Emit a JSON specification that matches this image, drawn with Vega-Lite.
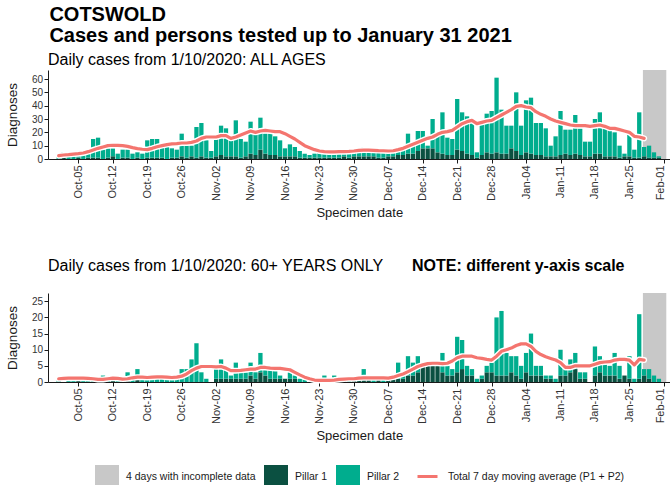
{
  "$schema": "https://vega.github.io/schema/vega-lite/v6.json",
  "background": "white",
  "padding": {"left": 5, "top": 5, "right": 0, "bottom": 2},
  "config": {
    "font": "Liberation Sans",
    "view": {"stroke": null},
    "axis": {"grid": false, "domainColor": "#1a1a1a", "tickColor": "#1a1a1a", "labelColor": "#333333", "titleColor": "#1a1a1a", "titleFontWeight": "normal", "labelFontSize": 10, "tickSize": 4, "labelOverlap": false},
    "legend": {"labelFontSize": 10.5, "labelColor": "#1a1a1a", "orient": "bottom", "labelLimit": 400, "layout": {"bottom": {"anchor": "middle", "direction": "horizontal", "margin": 16}}},
    "title": {"color": "black"}
  },
  "title": {"text": ["COTSWOLD", "Cases and persons tested up to January 31 2021"], "anchor": "start", "fontSize": 20, "fontWeight": "bold", "lineHeight": 21, "offset": 6, "dx": 44},
  "spacing": 38,
  "resolve": {"scale": {"y": "independent", "fill": "shared", "stroke": "shared"}},
  "datasets": {
    "inc": [{"d": "2021-01-27T18:00:00Z", "d2": "2021-02-01T12:00:00Z", "series": "incomplete"}],
    "all": [
      {"d":"2020-10-01","p1":0,"p2":3,"ma":2.5},{"d":"2020-10-02","p1":1,"p2":4,"ma":3.0},{"d":"2020-10-03","p1":0,"p2":3,"ma":3.3},{"d":"2020-10-04","p1":0,"p2":3,"ma":3.7},
      {"d":"2020-10-05","p1":1,"p2":5,"ma":4.0},{"d":"2020-10-06","p1":0,"p2":4,"ma":4.5},{"d":"2020-10-07","p1":1,"p2":4,"ma":5.5},{"d":"2020-10-08","p1":1,"p2":14,"ma":6.8},
      {"d":"2020-10-09","p1":1,"p2":15,"ma":8.0},{"d":"2020-10-10","p1":0,"p2":7,"ma":9.0},{"d":"2020-10-11","p1":1,"p2":7,"ma":10.0},{"d":"2020-10-12","p1":2,"p2":6,"ma":10.3},
      {"d":"2020-10-13","p1":0,"p2":4,"ma":10.2},{"d":"2020-10-14","p1":1,"p2":6,"ma":10.0},{"d":"2020-10-15","p1":1,"p2":6,"ma":9.5},{"d":"2020-10-16","p1":0,"p2":4,"ma":8.5},
      {"d":"2020-10-17","p1":1,"p2":4,"ma":7.8},{"d":"2020-10-18","p1":0,"p2":4,"ma":7.3},{"d":"2020-10-19","p1":1,"p2":13,"ma":7.0},{"d":"2020-10-20","p1":1,"p2":14,"ma":8.0},
      {"d":"2020-10-21","p1":1,"p2":14,"ma":9.2},{"d":"2020-10-22","p1":1,"p2":8,"ma":10.0},{"d":"2020-10-23","p1":0,"p2":9,"ma":10.8},{"d":"2020-10-24","p1":1,"p2":7,"ma":11.3},
      {"d":"2020-10-25","p1":1,"p2":6,"ma":11.5},{"d":"2020-10-26","p1":2,"p2":17,"ma":12.0},{"d":"2020-10-27","p1":1,"p2":9,"ma":12.0},{"d":"2020-10-28","p1":2,"p2":8,"ma":12.5},
      {"d":"2020-10-29","p1":1,"p2":23,"ma":13.5},{"d":"2020-10-30","p1":2,"p2":25,"ma":15.5},{"d":"2020-10-31","p1":1,"p2":13,"ma":16.5},{"d":"2020-11-01","p1":1,"p2":5,"ma":16.5},
      {"d":"2020-11-02","p1":2,"p2":13,"ma":16.5},{"d":"2020-11-03","p1":3,"p2":22,"ma":17.5},{"d":"2020-11-04","p1":2,"p2":21,"ma":17.5},{"d":"2020-11-05","p1":2,"p2":13,"ma":15.5},
      {"d":"2020-11-06","p1":2,"p2":27,"ma":16.5},{"d":"2020-11-07","p1":1,"p2":14,"ma":18.0},{"d":"2020-11-08","p1":2,"p2":11,"ma":19.5},{"d":"2020-11-09","p1":4,"p2":24,"ma":21.0},
      {"d":"2020-11-10","p1":3,"p2":16,"ma":20.0},{"d":"2020-11-11","p1":7,"p2":24,"ma":21.0},{"d":"2020-11-12","p1":4,"p2":15,"ma":21.5},{"d":"2020-11-13","p1":3,"p2":16,"ma":21.0},
      {"d":"2020-11-14","p1":3,"p2":14,"ma":20.5},{"d":"2020-11-15","p1":2,"p2":12,"ma":20.5},{"d":"2020-11-16","p1":2,"p2":6,"ma":19.0},{"d":"2020-11-17","p1":2,"p2":9,"ma":17.0},
      {"d":"2020-11-18","p1":2,"p2":7,"ma":15.0},{"d":"2020-11-19","p1":1,"p2":5,"ma":12.5},{"d":"2020-11-20","p1":1,"p2":3,"ma":10.0},{"d":"2020-11-21","p1":1,"p2":2,"ma":8.5},
      {"d":"2020-11-22","p1":1,"p2":3,"ma":7.0},{"d":"2020-11-23","p1":1,"p2":4,"ma":6.0},{"d":"2020-11-24","p1":1,"p2":5,"ma":5.5},{"d":"2020-11-25","p1":1,"p2":3,"ma":5.3},
      {"d":"2020-11-26","p1":1,"p2":5,"ma":5.3},{"d":"2020-11-27","p1":1,"p2":4,"ma":5.5},{"d":"2020-11-28","p1":2,"p2":4,"ma":5.5},{"d":"2020-11-29","p1":1,"p2":3,"ma":5.7},
      {"d":"2020-11-30","p1":2,"p2":4,"ma":6.0},{"d":"2020-12-01","p1":2,"p2":5,"ma":6.5},{"d":"2020-12-02","p1":2,"p2":7,"ma":6.7},{"d":"2020-12-03","p1":2,"p2":4,"ma":6.7},
      {"d":"2020-12-04","p1":2,"p2":5,"ma":6.5},{"d":"2020-12-05","p1":1,"p2":4,"ma":6.3},{"d":"2020-12-06","p1":1,"p2":4,"ma":6.2},{"d":"2020-12-07","p1":2,"p2":4,"ma":6.0},
      {"d":"2020-12-08","p1":2,"p2":4,"ma":6.2},{"d":"2020-12-09","p1":3,"p2":5,"ma":7.0},{"d":"2020-12-10","p1":3,"p2":6,"ma":8.0},{"d":"2020-12-11","p1":4,"p2":15,"ma":9.5},
      {"d":"2020-12-12","p1":4,"p2":8,"ma":11.0},{"d":"2020-12-13","p1":6,"p2":15,"ma":12.5},{"d":"2020-12-14","p1":8,"p2":13,"ma":14.0},{"d":"2020-12-15","p1":8,"p2":2,"ma":15.5},
      {"d":"2020-12-16","p1":8,"p2":22,"ma":16.5},{"d":"2020-12-17","p1":5,"p2":13,"ma":18.5},{"d":"2020-12-18","p1":4,"p2":31,"ma":20.0},{"d":"2020-12-19","p1":3,"p2":13,"ma":20.5},
      {"d":"2020-12-20","p1":3,"p2":12,"ma":21.5},{"d":"2020-12-21","p1":7,"p2":38,"ma":24.0},{"d":"2020-12-22","p1":6,"p2":29,"ma":26.5},{"d":"2020-12-23","p1":4,"p2":28,"ma":28.0},
      {"d":"2020-12-24","p1":3,"p2":26,"ma":29.0},{"d":"2020-12-25","p1":1,"p2":4,"ma":26.5},{"d":"2020-12-26","p1":3,"p2":24,"ma":27.5},{"d":"2020-12-27","p1":5,"p2":29,"ma":28.5},
      {"d":"2020-12-28","p1":4,"p2":32,"ma":29.0},{"d":"2020-12-29","p1":5,"p2":56,"ma":31.0},{"d":"2020-12-30","p1":4,"p2":33,"ma":33.0},{"d":"2020-12-31","p1":4,"p2":21,"ma":35.0},
      {"d":"2021-01-01","p1":8,"p2":17,"ma":37.0},{"d":"2021-01-02","p1":6,"p2":44,"ma":39.5},{"d":"2021-01-03","p1":3,"p2":22,"ma":40.0},{"d":"2021-01-04","p1":5,"p2":39,"ma":39.0},
      {"d":"2021-01-05","p1":4,"p2":42,"ma":38.5},{"d":"2021-01-06","p1":3,"p2":24,"ma":35.5},{"d":"2021-01-07","p1":3,"p2":24,"ma":33.5},{"d":"2021-01-08","p1":2,"p2":21,"ma":32.0},
      {"d":"2021-01-09","p1":2,"p2":8,"ma":30.0},{"d":"2021-01-10","p1":2,"p2":15,"ma":28.5},{"d":"2021-01-11","p1":3,"p2":33,"ma":27.5},{"d":"2021-01-12","p1":4,"p2":18,"ma":26.5},
      {"d":"2021-01-13","p1":3,"p2":19,"ma":25.5},{"d":"2021-01-14","p1":4,"p2":29,"ma":25.0},{"d":"2021-01-15","p1":3,"p2":20,"ma":25.0},{"d":"2021-01-16","p1":2,"p2":11,"ma":25.0},
      {"d":"2021-01-17","p1":2,"p2":11,"ma":24.5},{"d":"2021-01-18","p1":4,"p2":26,"ma":25.0},{"d":"2021-01-19","p1":4,"p2":31,"ma":25.5},{"d":"2021-01-20","p1":2,"p2":21,"ma":24.5},
      {"d":"2021-01-21","p1":2,"p2":21,"ma":23.0},{"d":"2021-01-22","p1":2,"p2":18,"ma":23.0},{"d":"2021-01-23","p1":1,"p2":9,"ma":22.0},{"d":"2021-01-24","p1":2,"p2":2,"ma":21.0},
      {"d":"2021-01-25","p1":2,"p2":16,"ma":20.0},{"d":"2021-01-26","p1":1,"p2":6,"ma":17.0},{"d":"2021-01-27","p1":1,"p2":34,"ma":16.5},{"d":"2021-01-28","p1":2,"p2":7,"ma":15.5},
      {"d":"2021-01-29","p1":1,"p2":9},{"d":"2021-01-30","p1":1,"p2":4},{"d":"2021-01-31","p1":1,"p2":1}
    ],
    "old": [
      {"d":"2020-10-01","p1":0,"p2":1,"ma":1.0},{"d":"2020-10-02","p1":0,"p2":0,"ma":1.1},{"d":"2020-10-03","p1":0,"p2":1,"ma":1.2},{"d":"2020-10-04","p1":0,"p2":1,"ma":1.2},
      {"d":"2020-10-05","p1":1,"p2":0,"ma":1.2},{"d":"2020-10-06","p1":0,"p2":1,"ma":1.2},{"d":"2020-10-07","p1":0,"p2":1,"ma":1.1},{"d":"2020-10-08","p1":0,"p2":1,"ma":1.0},
      {"d":"2020-10-09","p1":0,"p2":0,"ma":0.8},{"d":"2020-10-10","p1":0,"p2":2,"ma":0.8},{"d":"2020-10-11","p1":0,"p2":1,"ma":1.0},{"d":"2020-10-12","p1":1,"p2":0,"ma":1.2},
      {"d":"2020-10-13","p1":0,"p2":1,"ma":1.1},{"d":"2020-10-14","p1":0,"p2":1,"ma":0.9},{"d":"2020-10-15","p1":1,"p2":2,"ma":1.0},{"d":"2020-10-16","p1":0,"p2":1,"ma":1.3},
      {"d":"2020-10-17","p1":1,"p2":3,"ma":1.5},{"d":"2020-10-18","p1":0,"p2":1,"ma":1.5},{"d":"2020-10-19","p1":0,"p2":1,"ma":1.4},{"d":"2020-10-20","p1":0,"p2":1,"ma":1.5},
      {"d":"2020-10-21","p1":0,"p2":2,"ma":1.6},{"d":"2020-10-22","p1":0,"p2":1,"ma":1.6},{"d":"2020-10-23","p1":0,"p2":1,"ma":1.5},{"d":"2020-10-24","p1":0,"p2":1,"ma":1.4},
      {"d":"2020-10-25","p1":0,"p2":1,"ma":1.5},{"d":"2020-10-26","p1":0,"p2":4,"ma":1.8},{"d":"2020-10-27","p1":0,"p2":4,"ma":2.5},{"d":"2020-10-28","p1":0,"p2":7,"ma":3.5},
      {"d":"2020-10-29","p1":0,"p2":12,"ma":4.3},{"d":"2020-10-30","p1":0,"p2":3,"ma":4.8},{"d":"2020-10-31","p1":0,"p2":1,"ma":4.8},{"d":"2020-11-01","p1":0,"p2":0,"ma":4.8},
      {"d":"2020-11-02","p1":1,"p2":3,"ma":4.7},{"d":"2020-11-03","p1":1,"p2":6,"ma":4.8},{"d":"2020-11-04","p1":1,"p2":3,"ma":4.3},{"d":"2020-11-05","p1":1,"p2":1,"ma":3.5},
      {"d":"2020-11-06","p1":1,"p2":5,"ma":3.5},{"d":"2020-11-07","p1":1,"p2":2,"ma":3.6},{"d":"2020-11-08","p1":1,"p2":2,"ma":3.8},{"d":"2020-11-09","p1":2,"p2":4,"ma":4.0},
      {"d":"2020-11-10","p1":1,"p2":2,"ma":4.0},{"d":"2020-11-11","p1":3,"p2":6,"ma":4.5},{"d":"2020-11-12","p1":2,"p2":2,"ma":4.5},{"d":"2020-11-13","p1":1,"p2":3,"ma":4.3},
      {"d":"2020-11-14","p1":1,"p2":3,"ma":4.2},{"d":"2020-11-15","p1":1,"p2":1,"ma":4.2},{"d":"2020-11-16","p1":1,"p2":0,"ma":4.0},{"d":"2020-11-17","p1":1,"p2":2,"ma":3.8},
      {"d":"2020-11-18","p1":1,"p2":1,"ma":3.0},{"d":"2020-11-19","p1":0,"p2":1,"ma":2.2},{"d":"2020-11-20","p1":0,"p2":1,"ma":1.5},{"d":"2020-11-21","p1":0,"p2":0,"ma":1.0},
      {"d":"2020-11-22","p1":0,"p2":0,"ma":0.6},{"d":"2020-11-23","p1":1,"p2":0,"ma":0.5},{"d":"2020-11-24","p1":0,"p2":2,"ma":0.5},{"d":"2020-11-25","p1":0,"p2":0,"ma":0.5},
      {"d":"2020-11-26","p1":0,"p2":2,"ma":0.6},{"d":"2020-11-27","p1":0,"p2":0,"ma":0.8},{"d":"2020-11-28","p1":1,"p2":0,"ma":0.9},{"d":"2020-11-29","p1":0,"p2":1,"ma":1.0},
      {"d":"2020-11-30","p1":1,"p2":0,"ma":1.0},{"d":"2020-12-01","p1":1,"p2":0,"ma":1.2},{"d":"2020-12-02","p1":1,"p2":3,"ma":1.3},{"d":"2020-12-03","p1":1,"p2":0,"ma":1.3},
      {"d":"2020-12-04","p1":0,"p2":1,"ma":1.3},{"d":"2020-12-05","p1":1,"p2":0,"ma":1.3},{"d":"2020-12-06","p1":0,"p2":1,"ma":1.3},{"d":"2020-12-07","p1":1,"p2":0,"ma":1.2},
      {"d":"2020-12-08","p1":1,"p2":1,"ma":1.5},{"d":"2020-12-09","p1":1,"p2":5,"ma":2.0},{"d":"2020-12-10","p1":1,"p2":2,"ma":2.5},{"d":"2020-12-11","p1":2,"p2":6,"ma":3.2},
      {"d":"2020-12-12","p1":2,"p2":4,"ma":4.0},{"d":"2020-12-13","p1":3,"p2":5,"ma":4.8},{"d":"2020-12-14","p1":5,"p2":0,"ma":5.3},{"d":"2020-12-15","p1":5,"p2":1,"ma":5.7},
      {"d":"2020-12-16","p1":5,"p2":1,"ma":5.8},{"d":"2020-12-17","p1":5,"p2":0,"ma":5.8},{"d":"2020-12-18","p1":3,"p2":6,"ma":5.7},{"d":"2020-12-19","p1":2,"p2":3,"ma":5.8},
      {"d":"2020-12-20","p1":2,"p2":2,"ma":6.5},{"d":"2020-12-21","p1":3,"p2":11,"ma":7.5},{"d":"2020-12-22","p1":4,"p2":9,"ma":8.0},{"d":"2020-12-23","p1":2,"p2":3,"ma":8.0},
      {"d":"2020-12-24","p1":2,"p2":2,"ma":8.0},{"d":"2020-12-25","p1":0,"p2":1,"ma":7.5},{"d":"2020-12-26","p1":1,"p2":1,"ma":7.3},{"d":"2020-12-27","p1":3,"p2":2,"ma":7.0},
      {"d":"2020-12-28","p1":3,"p2":3,"ma":6.8},{"d":"2020-12-29","p1":2,"p2":18,"ma":8.0},{"d":"2020-12-30","p1":2,"p2":20,"ma":9.5},{"d":"2020-12-31","p1":2,"p2":7,"ma":10.0},
      {"d":"2021-01-01","p1":3,"p2":5,"ma":10.5},{"d":"2021-01-02","p1":2,"p2":6,"ma":11.3},{"d":"2021-01-03","p1":1,"p2":4,"ma":11.8},{"d":"2021-01-04","p1":3,"p2":6,"ma":11.8},
      {"d":"2021-01-05","p1":2,"p2":13,"ma":11.0},{"d":"2021-01-06","p1":2,"p2":3,"ma":9.5},{"d":"2021-01-07","p1":2,"p2":3,"ma":8.5},{"d":"2021-01-08","p1":1,"p2":1,"ma":7.8},
      {"d":"2021-01-09","p1":1,"p2":1,"ma":7.3},{"d":"2021-01-10","p1":0,"p2":1,"ma":6.8},{"d":"2021-01-11","p1":2,"p2":8,"ma":6.0},{"d":"2021-01-12","p1":2,"p2":2,"ma":4.5},
      {"d":"2021-01-13","p1":3,"p2":4,"ma":4.5},{"d":"2021-01-14","p1":4,"p2":5,"ma":5.0},{"d":"2021-01-15","p1":1,"p2":2,"ma":5.0},{"d":"2021-01-16","p1":1,"p2":2,"ma":5.0},
      {"d":"2021-01-17","p1":0,"p2":0,"ma":5.0},{"d":"2021-01-18","p1":2,"p2":9,"ma":5.5},{"d":"2021-01-19","p1":3,"p2":5,"ma":6.0},{"d":"2021-01-20","p1":2,"p2":5,"ma":6.2},
      {"d":"2021-01-21","p1":2,"p2":3,"ma":6.3},{"d":"2021-01-22","p1":2,"p2":7,"ma":6.8},{"d":"2021-01-23","p1":1,"p2":4,"ma":7.0},{"d":"2021-01-24","p1":2,"p2":0,"ma":7.0},
      {"d":"2021-01-25","p1":1,"p2":7,"ma":6.8},{"d":"2021-01-26","p1":0,"p2":1,"ma":5.3},{"d":"2021-01-27","p1":1,"p2":20,"ma":7.0},{"d":"2021-01-28","p1":2,"p2":2,"ma":6.8},
      {"d":"2021-01-29","p1":1,"p2":3},{"d":"2021-01-30","p1":0,"p2":2},{"d":"2021-01-31","p1":0,"p2":1}
    ]
  },
  "vconcat": [
    {
      "width": 622.5,
      "height": 89,
      "title": {"text": "Daily cases from 1/10/2020: ALL AGES", "anchor": "start", "frame": "group", "fontSize": 16, "fontWeight": "normal", "offset": 2},
      "encoding": {
        "x": {"field": "d", "type": "temporal", "title": "Specimen date",
          "scale": {"type": "utc", "domain": [{"year": 2020, "month": 9, "date": 29, "hours": 20, "minutes": 10, "utc": true}, {"year": 2021, "month": 2, "date": 1, "hours": 8, "minutes": 10, "utc": true}]},
          "axis": {"values": [{"year":2020,"month":10,"date":5,"utc":true},{"year":2020,"month":10,"date":12,"utc":true},{"year":2020,"month":10,"date":19,"utc":true},{"year":2020,"month":10,"date":26,"utc":true},{"year":2020,"month":11,"date":2,"utc":true},{"year":2020,"month":11,"date":9,"utc":true},{"year":2020,"month":11,"date":16,"utc":true},{"year":2020,"month":11,"date":23,"utc":true},{"year":2020,"month":11,"date":30,"utc":true},{"year":2020,"month":12,"date":7,"utc":true},{"year":2020,"month":12,"date":14,"utc":true},{"year":2020,"month":12,"date":21,"utc":true},{"year":2020,"month":12,"date":28,"utc":true},{"year":2021,"month":1,"date":4,"utc":true},{"year":2021,"month":1,"date":11,"utc":true},{"year":2021,"month":1,"date":18,"utc":true},{"year":2021,"month":1,"date":25,"utc":true},{"year":2021,"month":2,"date":1,"utc":true}],
            "labelExpr": "utcFormat(datum.value, '%b-%d')", "labelAngle": 270, "labelFontSize": 11, "labelPadding": 2, "titleFontSize": 13, "titlePadding": 6,
            "labelBaseline": {"condition": {"test": "utcmonth(datum.value) == 1", "value": "alphabetic"}, "value": "middle"}}
        }
      },
      "layer": [
        {"data": {"name": "inc"}, "mark": {"type": "rect", "clip": true},
         "encoding": {"x2": {"field": "d2"},
           "fill": {"field": "series", "type": "nominal",
             "scale": {"domain": ["incomplete", "p1", "p2"], "range": ["#c8c8c8", "#0b5041", "#00ad8e"]},
             "legend": {"title": null, "orient": "bottom", "direction": "horizontal", "offset": 22, "symbolType": "square", "symbolSize": 576, "symbolStrokeWidth": 0, "labelOffset": 7, "columnPadding": 8,
               "labelExpr": "datum.value == 'p1' ? 'Pillar 1' : datum.value == 'p2' ? 'Pillar 2' : '4 days with incomplete data'"}}}},
        {"data": {"name": "all"}, "transform": [{"fold": ["p1", "p2"], "as": ["series", "n"]}],
         "mark": {"type": "bar", "width": 4.3},
         "encoding": {
           "y": {"field": "n", "type": "quantitative", "stack": "zero", "title": "Diagnoses",
             "scale": {"domain": [0, 66.75], "nice": false},
             "axis": {"values": [0, 10, 20, 30, 40, 50, 60], "titleFontSize": 13.5, "labelPadding": 1.5, "titlePadding": 12}},
           "fill": {"field": "series", "type": "nominal"},
           "order": {"field": "series", "sort": "ascending"}}},
        {"data": {"name": "all"}, "mark": {"type": "line", "stroke": "white", "strokeWidth": 6, "strokeCap": "round", "strokeJoin": "round"},
         "encoding": {"y": {"field": "ma", "type": "quantitative", "title": "Diagnoses",
             "scale": {"domain": [0, 66.75], "nice": false},
             "axis": {"values": [0, 10, 20, 30, 40, 50, 60], "titleFontSize": 13.5, "labelPadding": 1.5, "titlePadding": 12}}}},
        {"data": {"name": "all"}, "mark": {"type": "line", "strokeWidth": 3.2, "strokeCap": "round", "strokeJoin": "round"},
         "encoding": {"y": {"field": "ma", "type": "quantitative", "title": "Diagnoses",
             "scale": {"domain": [0, 66.75], "nice": false},
             "axis": {"values": [0, 10, 20, 30, 40, 50, 60], "titleFontSize": 13.5, "labelPadding": 1.5, "titlePadding": 12}},
           "stroke": {"datum": "Total 7 day moving average (P1 + P2)", "type": "nominal", "scale": {"range": ["#f4756f"]},
             "legend": {"title": null, "orient": "bottom", "offset": 22, "symbolType": "stroke", "symbolSize": 400, "symbolStrokeWidth": 3, "labelOffset": 9}}}}
      ]
    },
    {
      "title": {"text": "NOTE: different y-axis scale", "anchor": "start", "frame": "group", "fontSize": 16, "fontWeight": "bold", "dx": 364, "offset": -16},
      "vconcat": [
        {
          "width": 622.5,
          "height": 89,
          "title": {"text": "Daily cases from 1/10/2020: 60+ YEARS ONLY", "anchor": "start", "frame": "group", "fontSize": 16, "fontWeight": "normal", "offset": 19},
          "encoding": {
            "x": {"field": "d", "type": "temporal", "title": "Specimen date",
              "scale": {"type": "utc", "domain": [{"year": 2020, "month": 9, "date": 29, "hours": 20, "minutes": 10, "utc": true}, {"year": 2021, "month": 2, "date": 1, "hours": 8, "minutes": 10, "utc": true}]},
              "axis": {"values": [{"year":2020,"month":10,"date":5,"utc":true},{"year":2020,"month":10,"date":12,"utc":true},{"year":2020,"month":10,"date":19,"utc":true},{"year":2020,"month":10,"date":26,"utc":true},{"year":2020,"month":11,"date":2,"utc":true},{"year":2020,"month":11,"date":9,"utc":true},{"year":2020,"month":11,"date":16,"utc":true},{"year":2020,"month":11,"date":23,"utc":true},{"year":2020,"month":11,"date":30,"utc":true},{"year":2020,"month":12,"date":7,"utc":true},{"year":2020,"month":12,"date":14,"utc":true},{"year":2020,"month":12,"date":21,"utc":true},{"year":2020,"month":12,"date":28,"utc":true},{"year":2021,"month":1,"date":4,"utc":true},{"year":2021,"month":1,"date":11,"utc":true},{"year":2021,"month":1,"date":18,"utc":true},{"year":2021,"month":1,"date":25,"utc":true},{"year":2021,"month":2,"date":1,"utc":true}],
                "labelExpr": "utcFormat(datum.value, '%b-%d')", "labelAngle": 270, "labelFontSize": 11, "labelPadding": 2, "titleFontSize": 13, "titlePadding": 6,
                "labelBaseline": {"condition": {"test": "utcmonth(datum.value) == 1", "value": "alphabetic"}, "value": "middle"}}
            }
          },
          "layer": [
            {"data": {"name": "inc"}, "mark": {"type": "rect", "clip": true},
             "encoding": {"x2": {"field": "d2"}, "fill": {"field": "series", "type": "nominal"}}},
            {"data": {"name": "old"}, "transform": [{"fold": ["p1", "p2"], "as": ["series", "n"]}],
             "mark": {"type": "bar", "width": 4.3},
             "encoding": {
               "y": {"field": "n", "type": "quantitative", "stack": "zero", "title": "Diagnoses",
                 "scale": {"domain": [0, 27.56], "nice": false},
                 "axis": {"values": [0, 5, 10, 15, 20, 25], "titleFontSize": 13.5, "labelPadding": 1.5, "titlePadding": 12}},
               "fill": {"field": "series", "type": "nominal"},
               "order": {"field": "series", "sort": "ascending"}}},
            {"data": {"name": "old"}, "mark": {"type": "line", "stroke": "white", "strokeWidth": 6, "strokeCap": "round", "strokeJoin": "round"},
             "encoding": {"y": {"field": "ma", "type": "quantitative", "title": "Diagnoses",
                 "scale": {"domain": [0, 27.56], "nice": false},
                 "axis": {"values": [0, 5, 10, 15, 20, 25], "titleFontSize": 13.5, "labelPadding": 1.5, "titlePadding": 12}}}},
            {"data": {"name": "old"}, "mark": {"type": "line", "strokeWidth": 3.2, "strokeCap": "round", "strokeJoin": "round"},
             "encoding": {"y": {"field": "ma", "type": "quantitative", "title": "Diagnoses",
                 "scale": {"domain": [0, 27.56], "nice": false},
                 "axis": {"values": [0, 5, 10, 15, 20, 25], "titleFontSize": 13.5, "labelPadding": 1.5, "titlePadding": 12}},
               "stroke": {"datum": "Total 7 day moving average (P1 + P2)", "type": "nominal"}}}
          ]
        }
      ]
    }
  ]
}
